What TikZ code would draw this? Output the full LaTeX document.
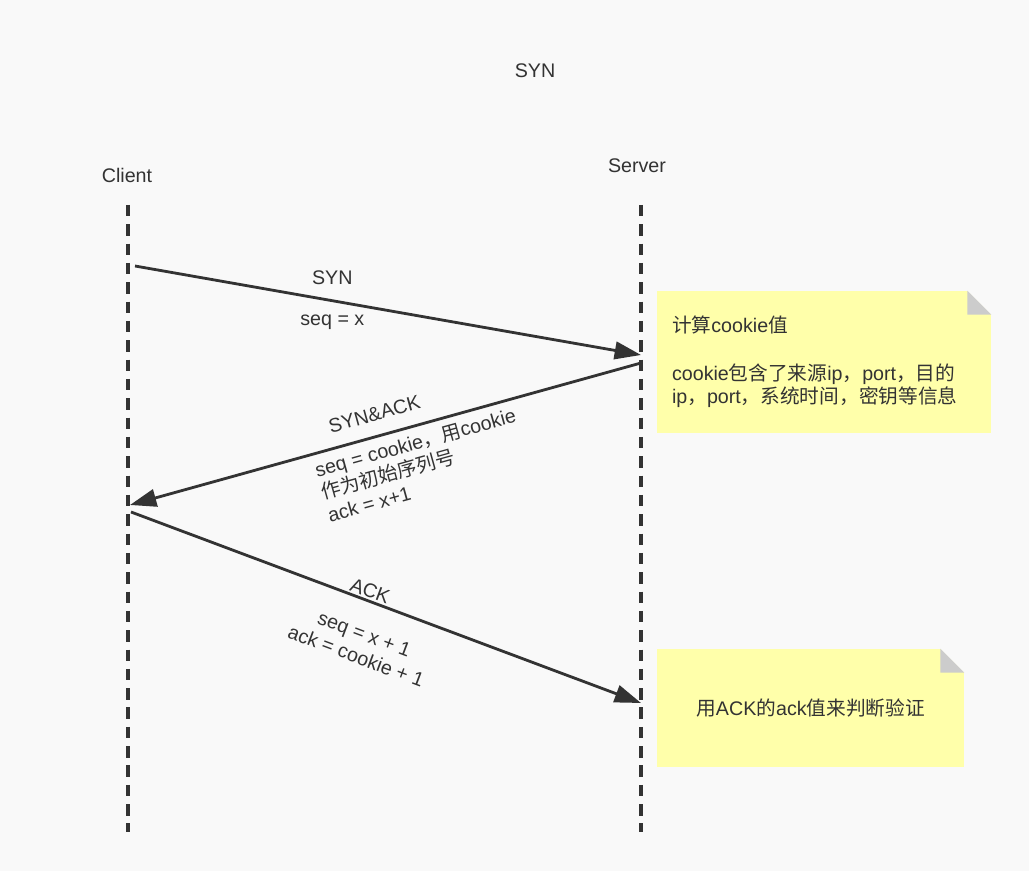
\documentclass[tikz,border=0pt]{standalone}
\usepackage{fontspec}
\setmainfont{Liberation Sans}
\newfontfamily\cjk{Noto Sans CJK SC}
\usetikzlibrary{arrows.meta,calc}

\definecolor{bgcol}{RGB}{249,249,249}
\definecolor{inkcol}{RGB}{51,51,51}
\definecolor{notecol}{RGB}{255,255,170}
\definecolor{foldcol}{RGB}{204,204,204}

\tikzset{
  lbl/.style={text=inkcol, font=\fontsize{11.2pt}{13.4pt}\selectfont},
  lifeline/.style={draw=inkcol, line width=1.8pt, dash pattern=on 6.5pt off 4.5pt},
  msg/.style={draw=inkcol, line width=1.6pt, -{Triangle[length=15pt,width=10pt]}},
  notebox/.style={fill=notecol, inner sep=0pt, lbl},
}

\begin{document}
\begin{tikzpicture}[x=0.02cm, y=-0.02cm]
        % 背景
        \fill[bgcol] (0,0) rectangle (1029,871);
        \useasboundingbox (0,0) rectangle (1029,871);

        % 标题和两端
        \node[lbl] (title) at (535,71) {SYN};
        \node[lbl] (client) at (127,175) {Client};
        \node[lbl] (server) at (637,166) {Server};

        % 生命线
        \coordinate (ctop) at (128,205);
        \coordinate (cbot) at (128,832);
        \coordinate (stop) at (641,205);
        \coordinate (sbot) at (641,832);
        \draw[lifeline] (ctop) -- (cbot);
        \draw[lifeline] (stop) -- (sbot);

        % 三次握手的端点
        \coordinate (c1) at (135,266);
        \coordinate (s1) at (641,355);
        \coordinate (s2) at (641,363);
        \coordinate (c2) at (130,505);
        \coordinate (c3) at (131,512);
        \coordinate (s3) at (641,703);

        \draw[msg] (c1) -- node[lbl, pos=0.39, above=5pt] (synlbl) {SYN}
            node[lbl, pos=0.39, below=4pt] (synseq) {seq = x} (s1);
        \draw[msg] (s2) -- node[lbl, sloped, pos=0.51, above=4.5pt] (acklbl) {SYN\&ACK}
            node[lbl, sloped, pos=0.45, below=0.5pt, align=left] (ackseq) {seq = cookie{\cjk ，用}cookie\\{\cjk 作为初始序列号}\\ack = x+1} (c2);
        \draw[msg] (c3) -- node[lbl, sloped, pos=0.462, above=-2.5pt] (finlbl) {ACK}
            node[lbl, sloped, pos=0.48, below=10.5pt, align=center] (finseq) {seq = x + 1\\ack = cookie + 1} (s3);

        % 说明便签
        \node[notebox, minimum width=6.68cm, minimum height=2.84cm, text width=6.08cm, align=left] (note1) at (824,362) {
            {\cjk 计算}cookie{\cjk 值}\\[13.4pt]
            cookie{\cjk 包含了来源}ip{\cjk ，}port{\cjk ，目的}\\
            ip{\cjk ，}port{\cjk ，系统时间，密钥等信息}
        };
        \fill[bgcol] ($(note1.north east)+(-24,0)$) -- (note1.north east) -- ($(note1.north east)+(0,24)$) -- cycle;
        \fill[foldcol] ($(note1.north east)+(-24,0)$) -- ($(note1.north east)+(-24,24)$) -- ($(note1.north east)+(0,24)$) -- cycle;

        \node[notebox, minimum width=6.14cm, minimum height=2.36cm] (note2) at (810.5,708) {{\cjk 用}ACK{\cjk 的}ack{\cjk 值来判断验证}};
        \fill[bgcol] ($(note2.north east)+(-24,0)$) -- (note2.north east) -- ($(note2.north east)+(0,24)$) -- cycle;
        \fill[foldcol] ($(note2.north east)+(-24,0)$) -- ($(note2.north east)+(-24,24)$) -- ($(note2.north east)+(0,24)$) -- cycle;
    \end{tikzpicture}
\end{document}
